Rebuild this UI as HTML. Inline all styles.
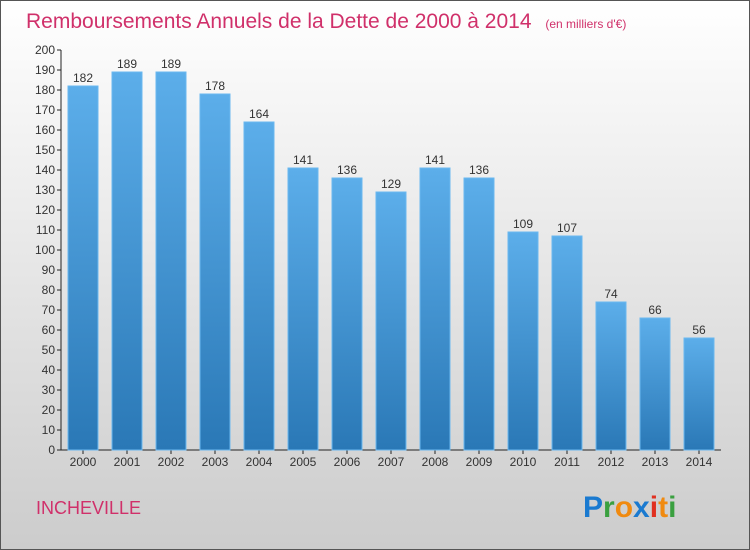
<!DOCTYPE html>
<html><head><meta charset="utf-8"><style>
body{margin:0;}
svg{display:block;font-family:"Liberation Sans",sans-serif;}
</style></head><body>
<svg id="c" width="750" height="550" xmlns="http://www.w3.org/2000/svg">
<defs>
<linearGradient id="bg" x1="0" y1="0" x2="0" y2="1"><stop offset="0" stop-color="#ffffff"/><stop offset="1" stop-color="#cccccc"/></linearGradient>
<linearGradient id="bar" x1="0" y1="0" x2="0" y2="1"><stop offset="0" stop-color="#5caeea"/><stop offset="1" stop-color="#2a78b6"/></linearGradient>
</defs>
<rect x="0.5" y="0.5" width="749" height="549" fill="url(#bg)" stroke="#555"/>
<text x="26" y="28" font-size="21" fill="#d0306a">Remboursements Annuels de la Dette de 2000 à 2014 <tspan font-size="12" dx="8">(en milliers d'€)</tspan></text>
<text x="36" y="514" font-size="18" fill="#d0306a">INCHEVILLE</text>
<g font-size="30" font-weight="bold">
<text x="583" y="517"><tspan fill="#1a7ad0">P</tspan><tspan fill="#3aa040">r</tspan><tspan fill="#f08a10">o</tspan><tspan fill="#1a7ad0">x</tspan><tspan fill="#e03020">i</tspan><tspan fill="#f08a10">t</tspan><tspan fill="#3aa040">i</tspan></text>
</g>
<g id="axes"></g>
<g id="bars"></g>
</svg>
<script>
const years=["2000","2001","2002","2003","2004","2005","2006","2007","2008","2009","2010","2011","2012","2013","2014"];
const values=[182,189,189,178,164,141,136,129,141,136,109,107,74,66,56];
const ticks=[0,10,20,30,40,50,60,70,80,90,100,110,120,130,140,150,160,170,180,190,200];
const NS="http://www.w3.org/2000/svg";
const x0=61,x1=721,y0=450,y1=50,ymax=200;
const y=v=>y0-(v/ymax)*(y0-y1);
const step=(x1-x0)/years.length;
const xc=i=>x0+step*(i+0.5);
const bw=30;
const ax=document.getElementById('axes'),bg=document.getElementById('bars');
function mk(t,a,p){const e=document.createElementNS(NS,t);for(const k in a)e.setAttribute(k,a[k]);p.appendChild(e);return e;}
const ya=mk('line',{x1:x0,y1:y1,x2:x0,y2:y0,stroke:'#222'},ax);


const xa=mk('line',{x1:x0,y1:y0,x2:x1,y2:y0,stroke:'#222'},ax);


ticks.forEach(t=>{
 mk('line',{x1:x0-4,x2:x0,y1:y(t),y2:y(t),stroke:'#222'},ax);
 const tx=mk('text',{x:x0-6,y:y(t)+4,'font-size':12,fill:'#333','text-anchor':'end'},ax);
 tx.textContent=t;
 
 
});
years.forEach((yr,i)=>{
 const v=values[i];
 const r=mk('rect',{x:xc(i)-bw/2,y:y(v),width:bw,height:y0-y(v),fill:'url(#bar)',stroke:'#6ab8f0','stroke-width':1},bg);
 
 
 const l=mk('text',{x:xc(i),y:y(v)-4,'font-size':12,fill:'#333','text-anchor':'middle'},bg);
 l.textContent=v;
 
 
 mk('line',{x1:xc(i),x2:xc(i),y1:y0,y2:y0+4,stroke:'#222'},ax);
 const xl=mk('text',{x:xc(i),y:y0+16,'font-size':12,fill:'#333','text-anchor':'middle'},ax);
 xl.textContent=yr;
 
 
});
</script>
</body></html>
